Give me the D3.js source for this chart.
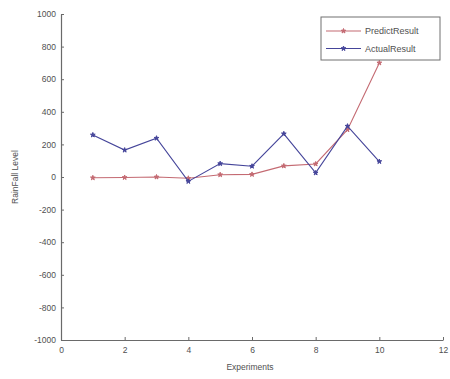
<!DOCTYPE html>
<html>
<head>
<meta charset="utf-8">
<script src="https://cdn.jsdelivr.net/npm/d3@7"></script>
<style>
  html, body { margin: 0; padding: 0; background: #fff; }
  svg { display: block; font-family: "Liberation Sans", Arial, sans-serif; }
</style>
</head>
<body>
<svg id="chart" width="450" height="379"></svg>
<script>
// Experiment index and rainfall levels
const experiments = [1, 2, 3, 4, 5, 6, 7, 8, 9, 10];
const predictResult = [-5, -3, 0, -8, 14, 16, 68, 80, 290, 700];
const actualResult = [258, 165, 238, -27, 82, 66, 265, 25, 312, 95];
const xTicks = [0, 2, 4, 6, 8, 10, 12];
const yTicks = [-1000, -800, -600, -400, -200, 0, 200, 400, 600, 800, 1000];
const seriesNames = ["PredictResult", "ActualResult"];
const seriesColors = ["#c46a72", "#45459a"];

const svg = d3.select("#chart");
const margin = { left: 61, right: 7, top: 14, bottom: 39 };
const W = 450, H = 379;

const x = d3.scaleLinear().domain([0, 12]).range([margin.left, W - margin.right]);
const y = d3.scaleLinear().domain([-1000, 1000]).range([H - margin.bottom, margin.top]);

const axisColor = "#6a6a6a";
const textColor = "#505050";
const plain = d => String(d);

// Axes with inward ticks
const gx = svg.append("g")
  .attr("transform", `translate(0,${y(-1000)})`)
  .call(d3.axisBottom(x).tickValues(xTicks).tickFormat(plain)
    .tickSizeInner(-3).tickSizeOuter(0).tickPadding(7));
const gy = svg.append("g")
  .attr("transform", `translate(${x(0)},0)`)
  .call(d3.axisLeft(y).tickValues(yTicks).tickFormat(plain)
    .tickSizeInner(-3).tickSizeOuter(0).tickPadding(5));

[gx, gy].forEach(g => {
  g.select(".domain").attr("stroke", axisColor).attr("stroke-width", 1.2);
  g.selectAll(".tick line").attr("stroke", axisColor);
  g.selectAll(".tick text").attr("fill", textColor).attr("font-size", 8.5)
    .attr("font-family", "'Liberation Sans', Arial, sans-serif");
});

// Axis titles
svg.append("text")
  .attr("x", (x(0) + x(12)) / 2 - 2).attr("y", 370)
  .attr("text-anchor", "middle").attr("font-size", 8.5).attr("fill", textColor)
  .text("Experiments");
svg.append("text")
  .attr("transform", `translate(18,${y(0)}) rotate(-90)`)
  .attr("text-anchor", "middle").attr("font-size", 8.5).attr("fill", textColor)
  .text("RainFall Level");

// Series: solid lines with small star markers
const line = d3.line().x((d, i) => x(experiments[i])).y(d => y(d));
const star = d3.symbol().type(d3.symbolStar).size(7);
[predictResult, actualResult].forEach((vals, k) => {
  svg.append("path")
    .datum(vals)
    .attr("d", line)
    .attr("fill", "none")
    .attr("stroke", seriesColors[k])
    .attr("stroke-width", 1.1);
  svg.append("g").selectAll("path")
    .data(vals)
    .join("path")
    .attr("transform", (d, i) => `translate(${x(experiments[i])},${y(d)})`)
    .attr("d", star)
    .attr("fill", seriesColors[k])
    .attr("stroke", seriesColors[k])
    .attr("stroke-width", 1);
});

// Legend
const lg = svg.append("g").attr("transform", "translate(321,17)");
lg.append("rect").attr("width", 119).attr("height", 43)
  .attr("fill", "#fff").attr("stroke", "#707070").attr("stroke-width", 1);
seriesNames.forEach((name, k) => {
  const yy = 14 + k * 17.5;
  lg.append("line").attr("x1", 5).attr("x2", 40).attr("y1", yy).attr("y2", yy)
    .attr("stroke", seriesColors[k]).attr("stroke-width", 1.1);
  lg.append("path").attr("transform", `translate(22.5,${yy})`).attr("d", star)
    .attr("fill", seriesColors[k]).attr("stroke", seriesColors[k]).attr("stroke-width", 1);
  lg.append("text").attr("x", 44).attr("y", yy + 3).attr("font-size", 9)
    .attr("fill", textColor).text(name);
});
</script>
</body>
</html>
